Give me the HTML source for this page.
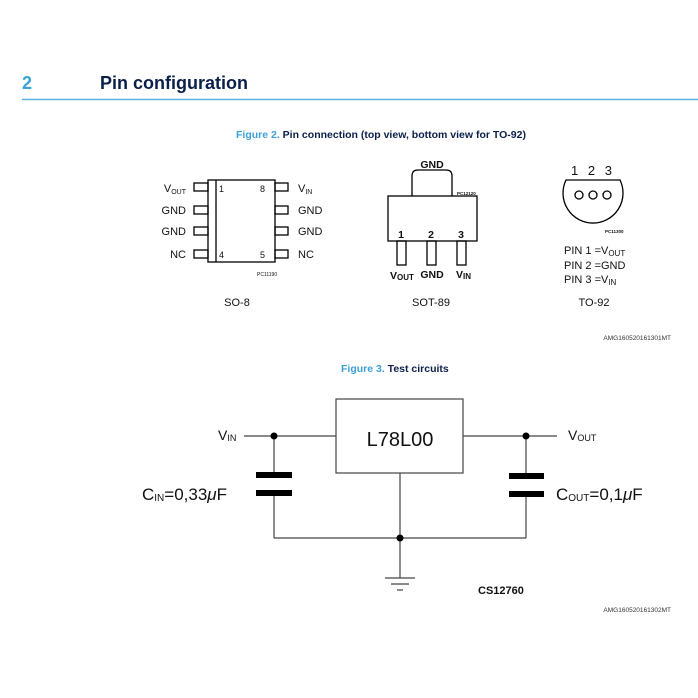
<!DOCTYPE html>
<html><head><meta charset="utf-8"><style>
html,body{margin:0;padding:0;background:#fff;}
svg{display:block;}
text{font-family:"Liberation Sans",sans-serif;}
</style></head><body>
<svg width="698" height="698" viewBox="0 0 698 698" xmlns="http://www.w3.org/2000/svg">
<rect width="698" height="698" fill="#fff"/>
<!-- header -->
<text x="22" y="89" font-size="18" font-weight="bold" fill="#3ca0d8">2</text>
<text x="100" y="89" font-size="18" font-weight="bold" fill="#0a1f4a">Pin configuration</text>
<line x1="22" y1="99.5" x2="698" y2="99.5" stroke="#5ab4e0" stroke-width="1.5"/>
<text x="236" y="138" font-size="10.5" font-weight="bold" fill="#0a1f4a"><tspan fill="#3ca0d8">Figure 2.</tspan> Pin connection (top view, bottom view for TO-92)</text>

<!-- SO-8 -->
<g stroke="#000" stroke-width="1.3" fill="none">
<rect x="208" y="180" width="67" height="82"/>
<line x1="216" y1="180" x2="216" y2="262"/>
<rect x="194" y="183" width="14" height="8"/>
<rect x="194" y="206" width="14" height="8"/>
<rect x="194" y="227" width="14" height="8"/>
<rect x="194" y="250" width="14" height="8"/>
<rect x="275" y="183" width="13" height="8"/>
<rect x="275" y="206" width="13" height="8"/>
<rect x="275" y="227" width="13" height="8"/>
<rect x="275" y="250" width="13" height="8"/>
</g>
<g font-size="11" fill="#111">
<text x="219" y="192" font-size="9">1</text>
<text x="260" y="192" font-size="9">8</text>
<text x="219" y="258" font-size="9">4</text>
<text x="260" y="258" font-size="9">5</text>
<text x="186" y="192" text-anchor="end">V<tspan font-size="7" dy="2">OUT</tspan></text>
<text x="186" y="214" text-anchor="end">GND</text>
<text x="186" y="235" text-anchor="end">GND</text>
<text x="186" y="258" text-anchor="end">NC</text>
<text x="298" y="192">V<tspan font-size="7" dy="2">IN</tspan></text>
<text x="298" y="214">GND</text>
<text x="298" y="235">GND</text>
<text x="298" y="258">NC</text>
<text x="257" y="276" font-size="5">PC11190</text>
<text x="237" y="306" text-anchor="middle">SO-8</text>
</g>

<!-- SOT-89 -->
<g stroke="#000" stroke-width="1.3" fill="none">
<path d="M412 196 V176 Q412 170 418 170 H446 Q452 170 452 176 V196"/>
<rect x="388" y="196" width="89" height="45"/>
<rect x="397" y="241" width="9" height="24"/>
<rect x="427" y="241" width="9" height="24"/>
<rect x="457" y="241" width="9" height="24"/>
</g>
<g fill="#111" font-weight="bold" font-size="10.5">
<text x="432" y="168" text-anchor="middle">GND</text>
<text x="401" y="238" text-anchor="middle">1</text>
<text x="431" y="238" text-anchor="middle">2</text>
<text x="461" y="238" text-anchor="middle">3</text>
<text x="390" y="279">V<tspan font-size="8" dy="1">OUT</tspan></text>
<text x="432" y="278" text-anchor="middle">GND</text>
<text x="456" y="278">V<tspan font-size="8" dy="1">IN</tspan></text>
<text x="457" y="195" font-size="4.5">PC12120</text>
</g>
<text x="431" y="306" font-size="11" text-anchor="middle" fill="#111">SOT-89</text>

<!-- TO-92 -->
<g stroke="#000" stroke-width="1.3" fill="none">
<path d="M566 180 A30 30 0 1 0 620 180 Z"/>
<circle cx="579" cy="195" r="4"/>
<circle cx="593" cy="195" r="4"/>
<circle cx="607" cy="195" r="4"/>
</g>
<g fill="#111" font-size="11">
<text x="593" y="175" text-anchor="middle" font-size="13" letter-spacing="3">1 2 3</text>
<text x="605" y="233" font-size="4.5" font-weight="bold">PC11300</text>
<text x="564" y="254">PIN 1 =V<tspan font-size="8" dy="2">OUT</tspan></text>
<text x="564" y="269">PIN 2 =GND</text>
<text x="564" y="283">PIN 3 =V<tspan font-size="8" dy="2">IN</tspan></text>
<text x="594" y="306" text-anchor="middle">TO-92</text>
</g>
<text x="671" y="340" font-size="6.5" text-anchor="end" fill="#333">AMG160520161301MT</text>

<!-- Figure 3 -->
<text x="341" y="372" font-size="10.5" font-weight="bold" fill="#0a1f4a"><tspan fill="#3ca0d8">Figure 3.</tspan> Test circuits</text>

<g stroke="#444" stroke-width="1.2" fill="none">
<rect x="336" y="399" width="127" height="74"/>
<line x1="244" y1="436" x2="336" y2="436"/>
<line x1="463" y1="436" x2="557" y2="436"/>
<line x1="274" y1="436" x2="274" y2="473"/>
<line x1="274" y1="492" x2="274" y2="538"/>
<line x1="526" y1="436" x2="526" y2="475"/>
<line x1="526" y1="493" x2="526" y2="538"/>
<line x1="274" y1="538" x2="526" y2="538"/>
<line x1="400" y1="473" x2="400" y2="578"/>
<line x1="385" y1="578" x2="415" y2="578"/>
<line x1="391" y1="584" x2="409" y2="584"/>
<line x1="397" y1="590" x2="403" y2="590"/>
</g>
<g fill="#000">
<rect x="256" y="472" width="36" height="6"/>
<rect x="256" y="490" width="36" height="6"/>
<rect x="509" y="473" width="35" height="6"/>
<rect x="509" y="491" width="35" height="6"/>
<circle cx="274" cy="436" r="3.5"/>
<circle cx="526" cy="436" r="3.5"/>
<circle cx="400" cy="538" r="3.5"/>
</g>
<g fill="#111" font-family="'DejaVu Sans','Liberation Sans',sans-serif">
<text x="400" y="446" font-size="20" text-anchor="middle" font-family="'DejaVu Sans',sans-serif">L78L00</text>
<text x="218" y="440" font-size="14">V<tspan font-size="9" dy="1">IN</tspan></text>
<text x="568" y="440" font-size="14">V<tspan font-size="9" dy="1">OUT</tspan></text>
<text x="142" y="500" font-size="17">C<tspan font-size="10" dy="1">IN</tspan><tspan dy="-1">=0,33</tspan><tspan font-style="italic">μ</tspan>F</text>
<text x="556" y="500" font-size="17">C<tspan font-size="10" dy="1">OUT</tspan><tspan dy="-1">=0,1</tspan><tspan font-style="italic">μ</tspan>F</text>
<text x="478" y="594" font-size="11" font-weight="bold" font-family="'Liberation Sans',sans-serif">CS12760</text>
</g>
<text x="671" y="612" font-size="6.5" text-anchor="end" fill="#333">AMG160520161302MT</text>
</svg>
</body></html>
